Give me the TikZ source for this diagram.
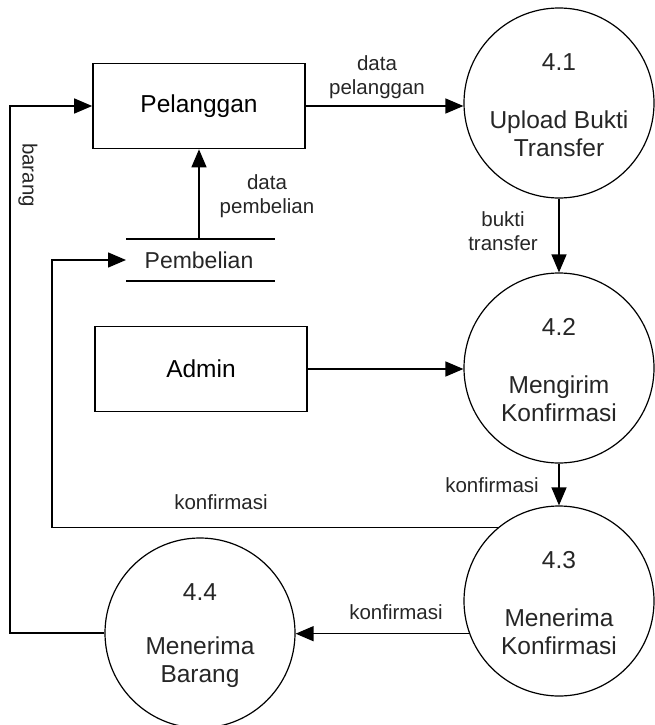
\documentclass[tikz,border=0pt]{standalone}
\usepackage{fontspec}
\setmainfont{Liberation Sans}
\usetikzlibrary{arrows.meta,calc}
\begin{document}
\begin{tikzpicture}[x=1pt,y=-1pt,
  proc/.style={draw,circle,minimum size=190pt,inner sep=0pt,line width=1.2pt},
  ent/.style={draw,rectangle,minimum width=212pt,minimum height=85pt,line width=1.6pt,font=\fontsize{24.5}{28}\selectfont},
  big/.style={font=\fontsize{24.5}{28}\selectfont,align=center,inner sep=0pt,text=black!85},
  lbl/.style={font=\fontsize{20.5}{24}\selectfont,align=center,inner sep=0pt,text=black!85},
  flow/.style={line width=1.4pt,-{Triangle[length=18pt,width=15pt]}},
  plain/.style={line width=1.4pt},
]
\useasboundingbox (0,0) rectangle (654,725);

% entities
\node[ent] (pel) at (199,106) {Pelanggan};
\node[ent] (adm) at (201,369) {Admin};

% processes
\node[proc] (p41) at (559,103) {};
\node[proc] (p42) at (559,368) {};
\node[proc] (p43) at (559,601) {};
\node[proc] (p44) at (200,633) {};

\node[big] (n41) at ($(p41)+(0,-41)$) {4.1};
\node[big] (t41) at ($(p41)+(0,31)$) {Upload Bukti\\Transfer};
\node[big] (n42) at ($(p42)+(0,-41)$) {4.2};
\node[big] (t42) at ($(p42)+(0,31)$) {Mengirim\\Konfirmasi};
\node[big] (n43) at ($(p43)+(0,-41)$) {4.3};
\node[big] (t43) at ($(p43)+(0,31)$) {Menerima\\Konfirmasi};
\node[big] (n44) at ($(p44)+(0,-41)$) {4.4};
\node[big] (t44) at ($(p44)+(0,29)$) {Menerima\\Barang};

% data store
\node[font=\fontsize{23}{26}\selectfont,inner sep=0pt,text=black!85] (ds) at (199,260) {Pembelian};
\coordinate (dsTL) at (126,239);
\coordinate (dsTR) at (275,239);
\coordinate (dsBL) at (126,281);
\coordinate (dsBR) at (275,281);
\coordinate (dst) at (199,239);
\coordinate (dsw) at (126,260);
\draw[plain] (dsTL) -- (dsTR);
\draw[plain] (dsBL) -- (dsBR);

% flows
\draw[flow] (pel.east) -- (p41.west |- pel.east);
\draw[flow] (dst) -- (pel.south);
\draw[flow] (p41.south) -- (p42.north);
\draw[flow] (adm.east) -- (adm.east -| p42.west);
\draw[flow] (p42.south) -- (p43.north);
\coordinate (kx) at (52,260);
\draw[flow] (p43.130) -| (kx) -- (dsw);
\draw[flow] (p43.200) -- (p43.200 -| p44.east);
\coordinate (bx) at (10,106);
\draw[flow] (p44.west) -| (bx) -- (pel.west);

% labels
\node[lbl] (l1) at (377,77) {data\\pelanggan};
\node[lbl] (l2) at (267,196) {data\\pembelian};
\node[lbl] (l3) at (503,231) {bukti\\transfer};
\node[lbl] (l4) at (492,485) {konfirmasi};
\node[lbl] (l5) at (221,502) {konfirmasi};
\node[lbl] (l6) at (396,612) {konfirmasi};
\node[lbl,rotate=-90] (l7) at (28,175) {barang};
\end{tikzpicture}
\end{document}
